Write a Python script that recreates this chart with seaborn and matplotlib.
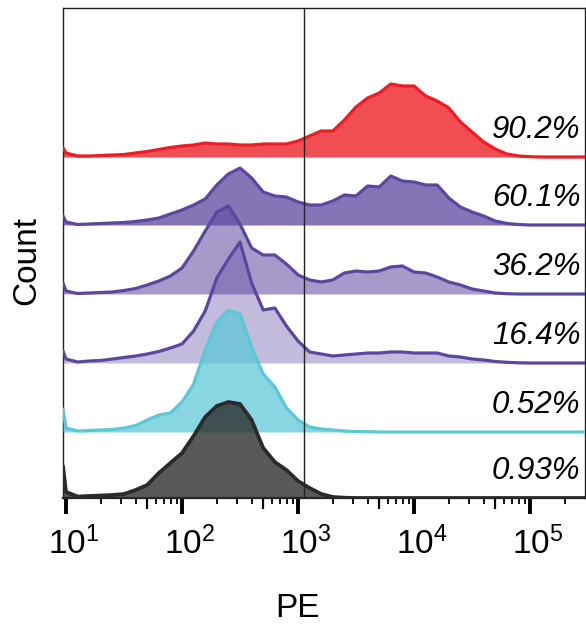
import numpy as np
import matplotlib
matplotlib.use("Agg")
import matplotlib.pyplot as plt
import matplotlib.transforms as mtransforms
from matplotlib import font_manager
from matplotlib.ticker import LogLocator, FixedLocator, NullFormatter
import seaborn as sns

# ---------------- data ----------------
pe_log10 = [0.974, 1.0, 1.1, 1.2, 1.3, 1.4, 1.5, 1.6, 1.7, 1.8, 1.9,
            2.0, 2.1, 2.2, 2.3, 2.4, 2.5, 2.6, 2.7, 2.8, 2.9,
            3.0, 3.1, 3.2, 3.3, 3.4, 3.5, 3.6, 3.7, 3.8, 3.9,
            4.0, 4.1, 4.2, 4.3, 4.4, 4.5, 4.6, 4.7, 4.8, 4.9,
            5.0, 5.1, 5.2, 5.3, 5.4, 5.474]

count_red = [9, 4, 1, 1, 1.5, 2, 2.5, 4, 5.5, 7.5, 9.5,
             11, 12, 14, 13, 13, 12, 12, 13, 13, 13,
             16, 21, 26, 26, 37, 50, 59, 64, 73, 71,
             71, 61, 56, 49, 35, 25, 15, 8, 3, 1,
             0.3, 0, 0, 0, 0, 0]
count_purple1 = [9, 3, 0.5, 1, 1.5, 2, 2.5, 3.5, 5, 7, 11,
                 15, 20, 26, 40, 51, 57, 47, 33, 29, 28,
                 23, 20, 20, 24, 30, 29, 39, 38, 49, 44,
                 43, 40, 40, 27, 18, 13, 9, 4, 1.5, 0.5,
                 0, 0, 0, 0, 0, 0]
count_purple2 = [11, 3, 0.5, 1, 1.5, 2, 3.5, 5.5, 9, 13, 18,
                 26, 43, 63, 82, 88, 70, 46, 39, 39, 30,
                 19, 14, 12, 14, 21, 23, 22, 23, 27, 28,
                 22, 21, 17, 12, 9, 5, 3, 1, 0.3, 0,
                 0, 0, 0, 0, 0, 0]
count_purple3 = [12, 4, 1, 2, 2.5, 4, 5.5, 7, 9, 11.5, 15,
                 19, 32, 52, 85, 104, 121, 80, 53, 55, 37,
                 22, 11, 9, 7, 8, 9, 10, 10, 11, 11,
                 10, 10, 10, 7, 6, 4, 3, 1.5, 0.7, 0.2,
                 0, 0, 0, 0, 0, 0]
count_cyan = [23, 4, 1, 1.5, 2, 2.5, 4, 6.5, 12, 17, 19,
              30, 48, 82, 110, 122, 118, 85, 58, 45, 24,
              12, 5, 3, 2, 1, 0.5, 0.3, 0, 0, 0,
              0, 0, 0, 0, 0, 0, 0, 0, 0, 0,
              0, 0, 0, 0, 0, 0]
count_black = [32, 6, 1.5, 2, 2.5, 3, 4, 8, 13, 25, 35,
               45, 62, 81, 92, 96, 94, 78, 50, 36, 28,
               17, 10, 4, 1, 0.3, 0, 0, 0, 0, 0,
               0, 0, 0, 0, 0, 0, 0, 0, 0, 0,
               0, 0, 0, 0, 0, 0]

percent_labels = ["90.2%", "60.1%", "36.2%", "16.4%", "0.52%", "0.93%"]
gate_pe = 1130
tick_exponents = [1, 2, 3, 4, 5]

# ---------------- style ----------------
sns.set_theme(style="white")
plt.rcParams["font.family"] = ["Liberation Sans", "DejaVu Sans"]
plt.rcParams["mathtext.fontset"] = "custom"
plt.rcParams["mathtext.rm"] = "Liberation Sans"
plt.rcParams["mathtext.it"] = "Liberation Sans:italic"
plt.rcParams["text.color"] = "black"
plt.rcParams["axes.labelcolor"] = "black"
plt.rcParams["xtick.color"] = "black"
plt.rcParams["xtick.labelcolor"] = "black"

names = {f.name for f in font_manager.fontManager.ttflist}
pct_family = "Liberation Sans Narrow" if "Liberation Sans Narrow" in names else "Liberation Sans"

fig = plt.figure(figsize=(5.86, 6.33), dpi=100)
ax = fig.add_axes([63 / 586, 1 - 498 / 633, 522 / 586, 490 / 633])
ax.set_xscale("log")

pe = 10 ** np.array(pe_log10)
series = [count_red, count_purple1, count_purple2, count_purple3, count_cyan, count_black]
offsets = [341, 273, 204, 135, 66, 0]
line_colors = ["#EE1C24", "#5C479F", "#5C479F", "#5C479F", "#5BC8D8", "#2A2A2A"]
fill_alphas = [0.78, 0.75, 0.55, 0.37, 0.73, 0.78]
line_widths = [2.3, 2.3, 2.3, 2.3, 2.3, 2.7]

for i, (vals, off, lc, fa, lw) in enumerate(zip(series, offsets, line_colors, fill_alphas, line_widths)):
    y = off + np.array(vals, dtype=float)
    ax.fill_between(pe, off, y, color=lc, alpha=fa, lw=0, zorder=2 + 2 * i)
    sns.lineplot(x=pe, y=y, ax=ax, color=lc, lw=lw, estimator=None, sort=False,
                 solid_joinstyle="round", solid_capstyle="round", zorder=3 + 2 * i)
    ax.text(0.991, off + 27, percent_labels[i],
            transform=mtransforms.blended_transform_factory(ax.transAxes, ax.transData),
            ha="right", va="center", fontsize=22.5, style="italic", family=pct_family,
            color="black", zorder=20)

ax.axvline(gate_pe, color="#222222", lw=1.0, zorder=30)

ax.set_xlim(10 ** 0.974, 10 ** 5.474)
ax.set_ylim(0, 490)
ax.set_yticks([])

ax.xaxis.set_major_locator(FixedLocator([10.0 ** e for e in tick_exponents]))
ax.set_xticklabels([f"$10^{{{e}}}$" for e in tick_exponents])
ax.xaxis.set_minor_locator(LogLocator(base=10, subs=[2, 3, 4, 6, 7, 8, 9]))
ax.xaxis.set_minor_formatter(NullFormatter())
ax.tick_params(axis="x", which="major", direction="out", length=11.5, width=2.8,
               color="black", labelcolor="black", labelsize=24, pad=9, bottom=True)
ax.tick_params(axis="x", which="minor", direction="out", length=4.5, width=1.3,
               color="black", bottom=True)
offset = mtransforms.ScaledTranslation(8 / 100, 0, fig.dpi_scale_trans)
for lab in ax.get_xticklabels():
    lab.set_transform(lab.get_transform() + offset)

# medium ticks at 5 x 10^n
ax2 = ax.twiny()
ax2.set_xscale("log")
ax2.set_xlim(ax.get_xlim())
ax2.xaxis.set_ticks_position("bottom")
ax2.xaxis.set_major_locator(FixedLocator([5 * 10.0 ** e for e in range(0, 6)]))
ax2.xaxis.set_minor_locator(FixedLocator([]))
ax2.tick_params(axis="x", which="major", direction="out", length=8, width=1.6,
                color="black", labelbottom=False, labeltop=False, top=False)
for s in ax2.spines.values():
    s.set_visible(False)

for name, s in ax.spines.items():
    s.set_visible(True)
    s.set_color("#222222")
    s.set_linewidth(1.0)
ax.spines["bottom"].set_linewidth(1.6)

ax.set_xlabel("PE", fontsize=24, color="black")
ax.xaxis.set_label_coords((298 - 63) / 522, -0.194)
ax.set_ylabel("Count", fontsize=24, color="black")
ax.yaxis.set_label_coords(-0.040, 0.484)

fig.savefig("out.png", dpi=100)
